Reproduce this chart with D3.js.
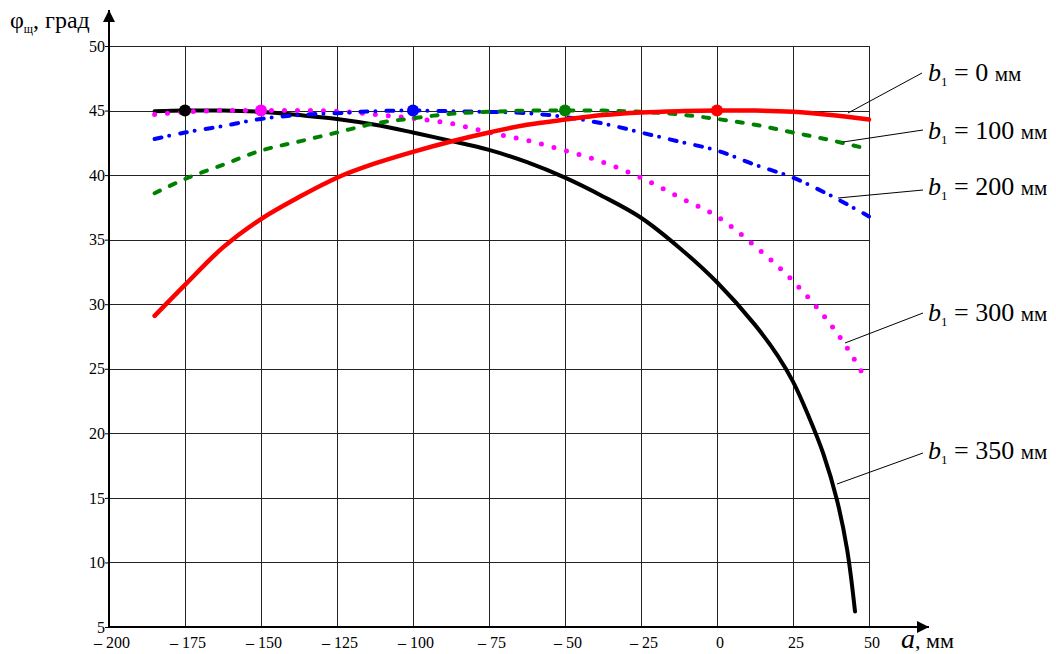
<!DOCTYPE html>
<html>
<head>
<meta charset="utf-8">
<script src="https://cdn.jsdelivr.net/npm/d3@7"></script>
</head>
<body style="margin:0; background:#fff">
<div id="chart"></div>
<script>
// data: angle phi (deg) vs a (mm) for several b1
const aGrid = [-185, -175, -162.5, -150, -137.5, -125, -112.5, -100, -87.5, -75, -62.5, -50, -37.5, -25, -12.5, 0, 12.5, 25, 37.5, 50];

const phiB0   = [29.1, 31.5, 34.4, 36.6, 38.3, 39.8, 40.9, 41.8, 42.6, 43.3, 43.9, 44.3, 44.65, 44.85, 44.95, 45.0, 45.0, 44.9, 44.65, 44.3];
const phiB100 = [38.6, 39.7, 40.8, 41.9, 42.6, 43.3, 44.0, 44.4, 44.75, 44.9, 45.0, 45.0, 45.0, 44.9, 44.7, 44.35, 43.9, 43.3, 42.7, 42.0];
const phiB200 = [42.8, 43.3, 43.8, 44.35, 44.65, 44.8, 44.95, 45.0, 44.95, 44.9, 44.8, 44.5, 44.0, 43.3, 42.6, 41.9, 40.8, 39.8, 38.4, 36.8];

const aB300   = [-185, -175, -162.5, -150, -137.5, -125, -112.5, -100, -87.5, -75, -62.5, -50, -37.5, -25, -12.5, 0, 12.5, 25, 37.5, 45, 47.5];
const phiB300 = [44.7, 44.9, 45.0, 45.0, 45.0, 44.95, 44.7, 44.4, 44.0, 43.3, 42.7, 41.9, 41.0, 39.8, 38.3, 36.8, 34.5, 31.8, 28.4, 25.8, 24.8];

const aB350   = [-185, -175, -162.5, -150, -137.5, -125, -112.5, -100, -87.5, -75, -62.5, -50, -37.5, -25, -12.5, 0, 12.5, 20, 25, 30, 35, 39.5, 42.8, 45.4];
const phiB350 = [44.95, 45.0, 45.0, 44.9, 44.65, 44.35, 43.9, 43.3, 42.65, 41.95, 41.0, 39.8, 38.35, 36.7, 34.4, 31.7, 28.4, 26.0, 24.0, 21.4, 18.4, 14.8, 11.0, 6.2];

// maximum points
const maxA   = [-175, -150, -100, -50, 0];
const maxPhi = [45, 45, 45, 45, 45];
const maxColors = ["#000000", "#ff00ff", "#0000ff", "#008000", "#ff0000"];

const xTicks = [-200, -175, -150, -125, -100, -75, -50, -25, 0, 25, 50];
const yTicks = [5, 10, 15, 20, 25, 30, 35, 40, 45, 50];

const labelValues = ["0", "100", "200", "300", "350"];

const W = 1056, H = 654;
const plotLeft = 109, plotRight = 869, plotTop = 46, plotBottom = 627;
const serif = "'Liberation Serif'";

const svg = d3.select("#chart").append("svg")
    .attr("width", W)
    .attr("height", H);

const x = d3.scaleLinear().domain([-200, 50]).range([plotLeft, plotRight]);
const y = d3.scaleLinear().domain([5, 50]).range([plotBottom, plotTop]);

// grid
svg.append("g")
    .selectAll("line")
    .data(xTicks.slice(1))
    .join("line")
    .attr("x1", d => Math.round(x(d)) + 0.5)
    .attr("x2", d => Math.round(x(d)) + 0.5)
    .attr("y1", plotTop)
    .attr("y2", plotBottom)
    .attr("stroke", "#222")
    .attr("stroke-width", 1);

svg.append("g")
    .selectAll("line")
    .data(yTicks.slice(1))
    .join("line")
    .attr("x1", plotLeft)
    .attr("x2", plotRight)
    .attr("y1", d => Math.round(y(d)) + 0.5)
    .attr("y2", d => Math.round(y(d)) + 0.5)
    .attr("stroke", "#222")
    .attr("stroke-width", 1);

// y ticks + labels
const yAxis = d3.axisLeft(y).tickValues(yTicks).tickSize(4).tickFormat(d3.format("d"));
const gy = svg.append("g").attr("transform", `translate(${plotLeft},0)`).call(yAxis);
gy.attr("font-family", null).attr("font-size", null);
gy.select(".domain").remove();
gy.selectAll("text")
    .style("font-family", serif)
    .style("font-size", "16px")
    .attr("fill", "#000")
    .attr("x", -4);
gy.selectAll("line").attr("stroke", "#000");

// x labels
const fmtX = d => d < 0 ? "\u2013 " + Math.abs(d) : String(d);
svg.append("g")
    .selectAll("text")
    .data(xTicks)
    .join("text")
    .attr("x", d => x(d) + 3)
    .attr("y", 648)
    .attr("text-anchor", "middle")
    .style("font-family", serif)
    .style("font-size", "16px")
    .text(fmtX);

// axes with arrows
svg.append("defs").append("marker")
    .attr("id", "arrow")
    .attr("viewBox", "0 0 10 10")
    .attr("refX", 10).attr("refY", 5)
    .attr("markerWidth", 12).attr("markerHeight", 12)
    .attr("markerUnits", "userSpaceOnUse")
    .attr("orient", "auto")
    .append("path")
    .attr("d", "M0,0 L10,5 L0,10 Z")
    .attr("fill", "#000");

svg.append("line")
    .attr("x1", plotLeft).attr("x2", plotLeft)
    .attr("y1", plotBottom).attr("y2", 10)
    .attr("stroke", "#000").attr("stroke-width", 2)
    .attr("marker-end", "url(#arrow)");
svg.append("line")
    .attr("x1", plotLeft).attr("x2", 929)
    .attr("y1", plotBottom).attr("y2", plotBottom)
    .attr("stroke", "#000").attr("stroke-width", 2)
    .attr("marker-end", "url(#arrow)");

// axis titles
const yTitle = svg.append("text").attr("x", 10).attr("y", 28)
    .style("font-family", serif).style("font-size", "24px");
yTitle.append("tspan").text("\u03c6");
yTitle.append("tspan").style("font-size", "12px").attr("dy", 5).text("\u0449");
yTitle.append("tspan").attr("dy", -5).text(", град");

const xTitle = svg.append("text").attr("x", 901).attr("y", 648)
    .style("font-family", serif).style("font-size", "22px");
xTitle.append("tspan").style("font-style", "italic").style("font-size", "28px").text("a");
xTitle.append("tspan").text(", мм");

// curves
const line = d3.line()
    .x(d => x(d[0]))
    .y(d => y(d[1]))
    .curve(d3.curveCatmullRom.alpha(0.5));

const series = [
    {a: aB350, v: phiB350, color: "#000000", width: 4, dash: null},
    {a: aB300, v: phiB300, color: "#ff00ff", width: 5, dash: "0,13"},
    {a: aGrid, v: phiB200, color: "#0000ff", width: 4, dash: "7,8,0,11"},
    {a: aGrid, v: phiB100, color: "#008000", width: 4, dash: "6,11"},
    {a: aGrid, v: phiB0,   color: "#ff0000", width: 4.5, dash: null}
];

svg.append("g")
    .selectAll("path")
    .data(series)
    .join("path")
    .attr("d", s => line(s.a.map((a, i) => [a, s.v[i]])))
    .attr("fill", "none")
    .attr("stroke", s => s.color)
    .attr("stroke-width", s => s.width)
    .attr("stroke-linecap", "round")
    .attr("stroke-linejoin", "round")
    .attr("stroke-dasharray", s => s.dash);

svg.append("g")
    .selectAll("circle")
    .data(maxA)
    .join("circle")
    .attr("cx", d => x(d))
    .attr("cy", (d, i) => y(maxPhi[i]))
    .attr("r", 6)
    .attr("fill", (d, i) => maxColors[i]);

// labels with leader lines
const leaders = [
    {from: [922, 73], to: [848, 113], baseline: 81},
    {from: [923, 130], to: [843, 142], baseline: 139},
    {from: [923, 190], to: [838, 198], baseline: 195},
    {from: [923, 313], to: [845, 343], baseline: 321},
    {from: [923, 453], to: [837, 484], baseline: 459}
];

leaders.forEach((l, i) => {
    svg.append("line")
        .attr("x1", l.from[0]).attr("y1", l.from[1])
        .attr("x2", l.to[0]).attr("y2", l.to[1])
        .attr("stroke", "#000").attr("stroke-width", 1);
    const t = svg.append("text").attr("x", 928).attr("y", l.baseline)
        .style("font-family", serif).style("font-size", "26px");
    t.append("tspan").style("font-style", "italic").text("b");
    t.append("tspan").style("font-size", "13px").attr("dy", 5).text("1");
    t.append("tspan").attr("dy", -5).text(" = " + labelValues[i] + " ");
    t.append("tspan").style("font-size", "21px").text("мм");
});

// force layout so the system serif font is resolved before the snapshot
svg.selectAll("text").each(function() { this.getComputedTextLength(); });
</script>
</body>
</html>
